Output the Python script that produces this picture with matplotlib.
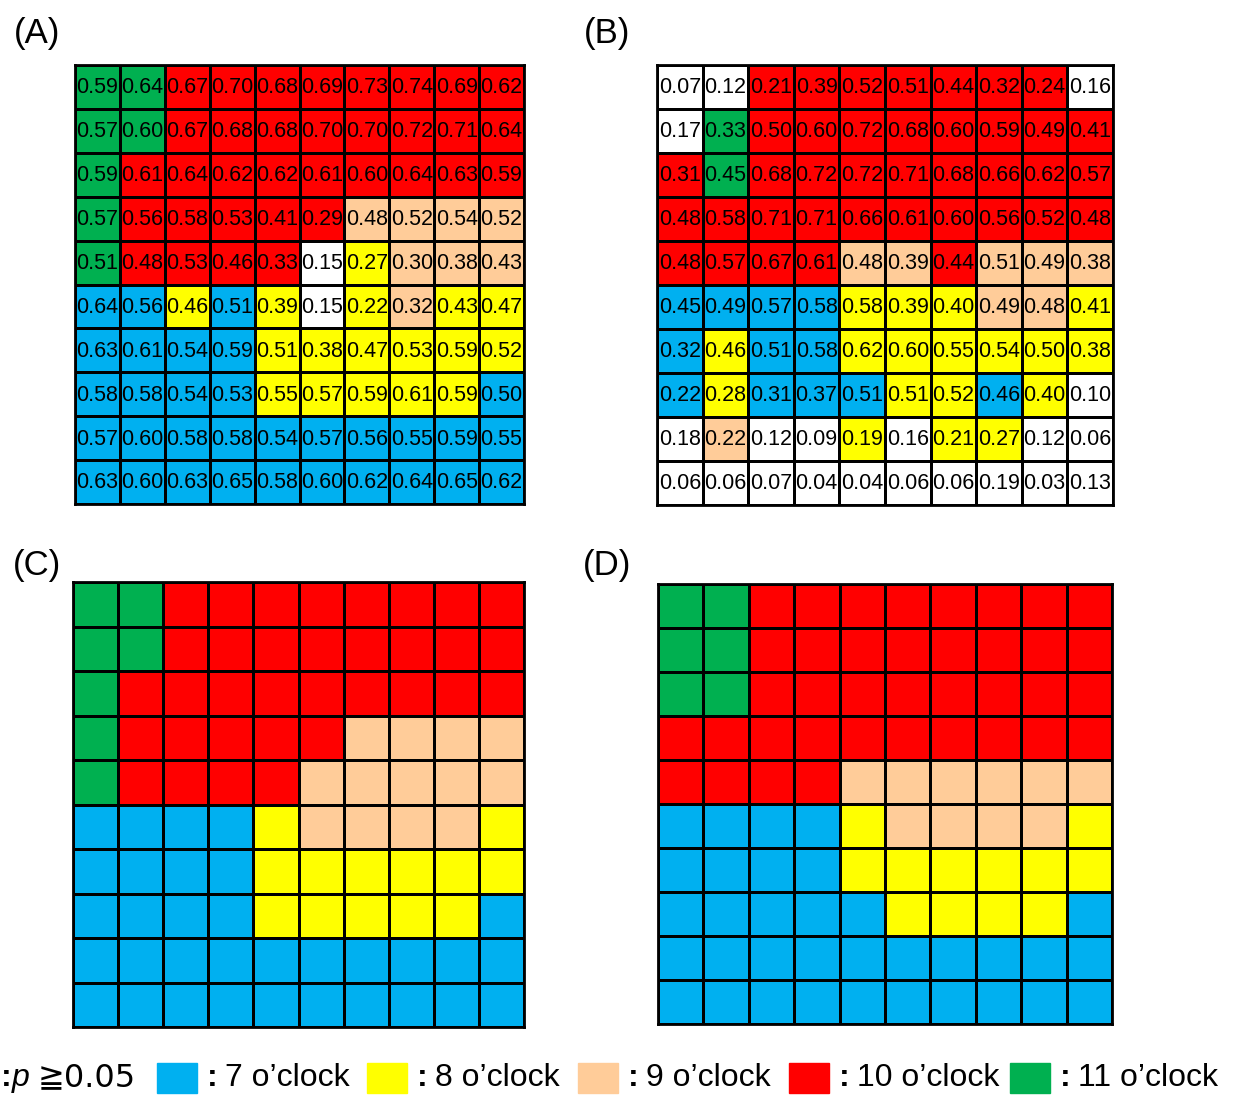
import numpy as np
import matplotlib
matplotlib.use("Agg")
import matplotlib.pyplot as plt
from matplotlib.colors import ListedColormap, BoundaryNorm
from matplotlib.patches import Rectangle

plt.rcParams['font.family'] = ['Liberation Sans', 'DejaVu Sans']

# ---------------- data ----------------
# hour codes: 0 = p >= 0.05 (not significant), 7..11 = o'clock
A_values = [
    [0.59, 0.64, 0.67, 0.70, 0.68, 0.69, 0.73, 0.74, 0.69, 0.62],
    [0.57, 0.60, 0.67, 0.68, 0.68, 0.70, 0.70, 0.72, 0.71, 0.64],
    [0.59, 0.61, 0.64, 0.62, 0.62, 0.61, 0.60, 0.64, 0.63, 0.59],
    [0.57, 0.56, 0.58, 0.53, 0.41, 0.29, 0.48, 0.52, 0.54, 0.52],
    [0.51, 0.48, 0.53, 0.46, 0.33, 0.15, 0.27, 0.30, 0.38, 0.43],
    [0.64, 0.56, 0.46, 0.51, 0.39, 0.15, 0.22, 0.32, 0.43, 0.47],
    [0.63, 0.61, 0.54, 0.59, 0.51, 0.38, 0.47, 0.53, 0.59, 0.52],
    [0.58, 0.58, 0.54, 0.53, 0.55, 0.57, 0.59, 0.61, 0.59, 0.50],
    [0.57, 0.60, 0.58, 0.58, 0.54, 0.57, 0.56, 0.55, 0.59, 0.55],
    [0.63, 0.60, 0.63, 0.65, 0.58, 0.60, 0.62, 0.64, 0.65, 0.62],
]
A_hours = [
    [11, 11, 10, 10, 10, 10, 10, 10, 10, 10],
    [11, 11, 10, 10, 10, 10, 10, 10, 10, 10],
    [11, 10, 10, 10, 10, 10, 10, 10, 10, 10],
    [11, 10, 10, 10, 10, 10, 9, 9, 9, 9],
    [11, 10, 10, 10, 10, 0, 8, 9, 9, 9],
    [7, 7, 8, 7, 8, 0, 8, 9, 8, 8],
    [7, 7, 7, 7, 8, 8, 8, 8, 8, 8],
    [7, 7, 7, 7, 8, 8, 8, 8, 8, 7],
    [7, 7, 7, 7, 7, 7, 7, 7, 7, 7],
    [7, 7, 7, 7, 7, 7, 7, 7, 7, 7],
]
B_values = [
    [0.07, 0.12, 0.21, 0.39, 0.52, 0.51, 0.44, 0.32, 0.24, 0.16],
    [0.17, 0.33, 0.50, 0.60, 0.72, 0.68, 0.60, 0.59, 0.49, 0.41],
    [0.31, 0.45, 0.68, 0.72, 0.72, 0.71, 0.68, 0.66, 0.62, 0.57],
    [0.48, 0.58, 0.71, 0.71, 0.66, 0.61, 0.60, 0.56, 0.52, 0.48],
    [0.48, 0.57, 0.67, 0.61, 0.48, 0.39, 0.44, 0.51, 0.49, 0.38],
    [0.45, 0.49, 0.57, 0.58, 0.58, 0.39, 0.40, 0.49, 0.48, 0.41],
    [0.32, 0.46, 0.51, 0.58, 0.62, 0.60, 0.55, 0.54, 0.50, 0.38],
    [0.22, 0.28, 0.31, 0.37, 0.51, 0.51, 0.52, 0.46, 0.40, 0.10],
    [0.18, 0.22, 0.12, 0.09, 0.19, 0.16, 0.21, 0.27, 0.12, 0.06],
    [0.06, 0.06, 0.07, 0.04, 0.04, 0.06, 0.06, 0.19, 0.03, 0.13],
]
B_hours = [
    [0, 0, 10, 10, 10, 10, 10, 10, 10, 0],
    [0, 11, 10, 10, 10, 10, 10, 10, 10, 10],
    [10, 11, 10, 10, 10, 10, 10, 10, 10, 10],
    [10, 10, 10, 10, 10, 10, 10, 10, 10, 10],
    [10, 10, 10, 10, 9, 9, 10, 9, 9, 9],
    [7, 7, 7, 7, 8, 8, 8, 9, 9, 8],
    [7, 8, 7, 7, 8, 8, 8, 8, 8, 8],
    [7, 8, 7, 7, 7, 8, 8, 7, 8, 0],
    [0, 9, 0, 0, 8, 0, 8, 8, 0, 0],
    [0, 0, 0, 0, 0, 0, 0, 0, 0, 0],
]
C_hours = [
    [11, 11, 10, 10, 10, 10, 10, 10, 10, 10],
    [11, 11, 10, 10, 10, 10, 10, 10, 10, 10],
    [11, 10, 10, 10, 10, 10, 10, 10, 10, 10],
    [11, 10, 10, 10, 10, 10, 9, 9, 9, 9],
    [11, 10, 10, 10, 10, 9, 9, 9, 9, 9],
    [7, 7, 7, 7, 8, 9, 9, 9, 9, 8],
    [7, 7, 7, 7, 8, 8, 8, 8, 8, 8],
    [7, 7, 7, 7, 8, 8, 8, 8, 8, 7],
    [7, 7, 7, 7, 7, 7, 7, 7, 7, 7],
    [7, 7, 7, 7, 7, 7, 7, 7, 7, 7],
]
D_hours = [
    [11, 11, 10, 10, 10, 10, 10, 10, 10, 10],
    [11, 11, 10, 10, 10, 10, 10, 10, 10, 10],
    [11, 11, 10, 10, 10, 10, 10, 10, 10, 10],
    [10, 10, 10, 10, 10, 10, 10, 10, 10, 10],
    [10, 10, 10, 10, 9, 9, 9, 9, 9, 9],
    [7, 7, 7, 7, 8, 9, 9, 9, 9, 8],
    [7, 7, 7, 7, 8, 8, 8, 8, 8, 8],
    [7, 7, 7, 7, 7, 8, 8, 8, 8, 7],
    [7, 7, 7, 7, 7, 7, 7, 7, 7, 7],
    [7, 7, 7, 7, 7, 7, 7, 7, 7, 7],
]
hour_codes = [0, 7, 8, 9, 10, 11]
legend_labels = ["p ≧0.05", "7 o’clock", "8 o’clock", "9 o’clock", "10 o’clock", "11 o’clock"]

# ---------------- style ----------------
hour_colors = ["#FFFFFF", "#00B0F0", "#FFFF00", "#FFCC99", "#FF0000", "#00B050"]
cmap = ListedColormap(hour_colors)
norm = BoundaryNorm(np.arange(-0.5, len(hour_codes) + 0.5, 1), cmap.N)
code_index = {h: i for i, h in enumerate(hour_codes)}

W, H = 1233, 1096
fig = plt.figure(figsize=(W / 100, H / 100), dpi=100)


def px_axes(x0, y0, x1, y1):
    return fig.add_axes([x0 / W, 1 - y1 / H, (x1 - x0) / W, (y1 - y0) / H])


def draw_panel(ax, hours, values=None):
    idx = np.vectorize(code_index.get)(np.array(hours))
    ax.pcolormesh(idx, cmap=cmap, norm=norm, edgecolors="black", linewidth=1.8)
    ax.set_xlim(0, idx.shape[1])
    ax.set_ylim(idx.shape[0], 0)
    ax.set_xticks([])
    ax.set_yticks([])
    for s in ax.spines.values():
        s.set_linewidth(2)
        s.set_color("black")
    if values is not None:
        for i, row in enumerate(values):
            for j, v in enumerate(row):
                ax.text(j + 0.5, i + 0.52, f"{v:.2f}", ha="center", va="center",
                        fontsize=15.5, color="black")


axA = px_axes(75, 65, 524, 504)
axB = px_axes(657, 65, 1113, 505)
axC = px_axes(73, 582, 524, 1027)
axD = px_axes(658, 584, 1112, 1024)

draw_panel(axA, A_hours, A_values)
draw_panel(axB, B_hours, B_values)
draw_panel(axC, C_hours)
draw_panel(axD, D_hours)

for lab, (x, y) in zip(["(A)", "(B)", "(C)", "(D)"],
                       [(37, 33), (607, 33), (37, 565), (607, 565)]):
    fig.text(x / W, 1 - y / H, lab, ha="center", va="center", fontsize=25)

# ---------------- legend ----------------
leg = fig.add_axes([0, 0, 1, 1], zorder=-1)
leg.set_xlim(0, W)
leg.set_ylim(H, 0)
leg.axis("off")
ly = 1078
# first item: white key (off the left edge) and its label
p_txt, rest_txt = legend_labels[0].split(" ", 1)
leg.text(1, ly, ":", ha="left", va="center", fontsize=23, fontweight="bold")
leg.text(12, ly, p_txt, ha="left", va="center", fontsize=23, style="italic")
leg.text(38, ly, rest_txt, ha="left", va="center", fontsize=23,
         family=["DejaVu Sans"])
key_x = [157, 367, 578, 789, 1010]
for kx, col, lab in zip(key_x, hour_colors[1:], legend_labels[1:]):
    leg.add_patch(Rectangle((kx, ly - 15), 40, 30, facecolor=col,
                            edgecolor=col, linewidth=1))
    leg.text(kx + 50, ly, ":", ha="left", va="center", fontsize=23, fontweight="bold")
    leg.text(kx + 68, ly, lab, ha="left", va="center", fontsize=23)

fig.savefig("out.png", dpi=100, facecolor="white")
